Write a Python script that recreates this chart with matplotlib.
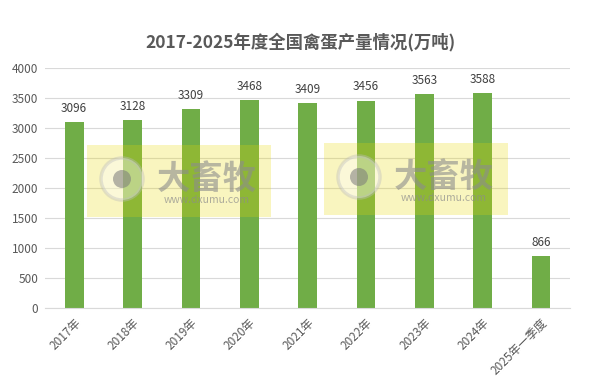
import matplotlib
matplotlib.use('Agg')
import matplotlib.pyplot as plt
from matplotlib.patches import Rectangle, Circle
import numpy as np

plt.rcParams['font.family'] = ['Noto Sans CJK SC', 'DejaVu Sans']

# ─── data ───
categories = ['2017年', '2018年', '2019年', '2020年', '2021年', '2022年',
              '2023年', '2024年', '2025年一季度']
output = [3096, 3128, 3309, 3468, 3409, 3456, 3563, 3588, 866]
yticks = [0, 500, 1000, 1500, 2000, 2500, 3000, 3500, 4000]
title = '2017-2025年度全国禽蛋产量情况(万吨)'

fig = plt.figure(figsize=(5.89, 3.80), dpi=100)
ax = fig.add_axes([0.0764, 0.1895, 0.8916, 0.6316])

x = np.arange(len(categories))
ax.bar(x, output, width=0.32, color='#70AD47', zorder=2)
for xi, v in zip(x, output):
    ax.text(xi, v + 120, f'{v}', ha='center', va='bottom', fontsize=8.5, color='#404040')

ax.set_xlim(-0.5, len(categories) - 0.5)
ax.set_ylim(0, 4000)
ax.set_yticks(yticks)
ax.set_yticklabels([str(t) for t in yticks], fontsize=8.5, color='#595959')
ax.set_xticks(x)
ax.set_xticklabels(categories, fontsize=8.5, color='#595959', rotation=45,
                   ha='right', rotation_mode='anchor')
ax.tick_params(length=0, pad=5)
ax.tick_params(axis='x', pad=6)
ax.grid(axis='y', color='#D9D9D9', linewidth=0.8, zorder=0)
for s in ['top', 'right', 'left']:
    ax.spines[s].set_visible(False)
ax.spines['bottom'].set_color('#D9D9D9')

fig.text(0.51, 0.888, title, ha='center', va='center', fontsize=12.5,
         fontweight='bold', color='#595959')

# ─── watermarks (pixel-space overlay) ───
ov = fig.add_axes([0, 0, 1, 1], zorder=10)
ov.set_xlim(0, 589)
ov.set_ylim(380, 0)
ov.axis('off')

def watermark(x0, y0, w, h):
    ov.add_patch(Rectangle((x0, y0), w, h, facecolor='#E8D800', alpha=0.25,
                           edgecolor='none'))
    cx, cy = x0 + 35, y0 + 34
    ov.add_patch(Circle((cx, cy), 21, facecolor='#FFFFFF', alpha=0.4,
                        edgecolor='#BDBDBD', linewidth=2.5))
    ov.add_patch(Circle((cx, cy), 9, facecolor='#7A7A7A', alpha=0.55,
                        edgecolor='none'))
    ov.text(x0 + 120, y0 + 34, '大畜牧', ha='center', va='center',
            fontsize=24, fontweight='bold', color='#8C8C8C', alpha=0.6)
    ov.text(x0 + 120, y0 + 55, 'www.dxumu.com', ha='center', va='center',
            fontsize=7.5, color='#8C8C8C', alpha=0.7)

watermark(87, 145, 184, 72)
watermark(324, 143, 184, 72)

plt.savefig('out.png', dpi=100)
